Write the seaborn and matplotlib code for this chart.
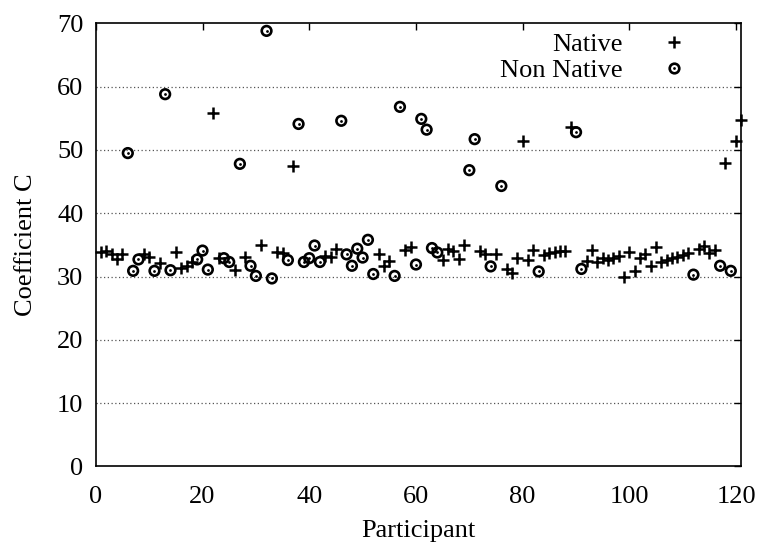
import matplotlib
matplotlib.use("Agg")
import matplotlib.pyplot as plt
from matplotlib.legend_handler import HandlerTuple
import seaborn as sns
import pandas as pd

# Coefficient C per participant, split by speaker group
native_id = [1, 2, 3, 4, 5, 9, 10, 12, 15, 16, 17, 18, 22, 23, 26, 28, 31, 34, 35, 37,
             43, 44, 45, 53, 54, 55, 58, 59, 65, 66, 67, 68, 69, 72, 73, 75, 77, 78, 79, 80,
             81, 82, 84, 85, 86, 87, 88, 89, 92, 93, 94, 95, 96, 97, 98, 99, 100, 101, 102,
             103, 104, 105, 106, 107, 108, 109, 110, 111, 113, 114, 115, 116, 118, 120, 121]
native_c = [33.9, 34.0, 33.5, 32.8, 33.6, 33.5, 33.1, 32.1, 33.9, 31.3, 31.7, 32.3, 55.9, 32.9,
            31.0, 33.1, 35.0, 33.9, 33.7, 47.4, 33.3, 33.1, 34.3, 33.5, 31.7, 32.5, 34.2, 34.7,
            32.6, 34.3, 34.0, 32.8, 35.0, 34.1, 33.5, 33.5, 31.2, 30.5, 33.0, 51.4, 32.6, 34.2,
            33.4, 33.7, 33.8, 34.0, 34.0, 53.6, 32.5, 34.2, 32.3, 32.9, 32.6, 32.9, 33.3, 30.0,
            33.8, 30.8, 32.9, 33.5, 31.6, 34.7, 32.3, 32.6, 32.9, 33.1, 33.4, 33.7, 34.4, 34.9,
            33.7, 34.2, 48.0, 51.4, 54.7]

nonnative_id = [6, 7, 8, 11, 13, 14, 19, 20, 21, 24, 25, 27, 29, 30, 32, 33, 36, 38, 39, 40,
                41, 42, 46, 47, 48, 49, 50, 51, 52, 56, 57, 60, 61, 62, 63, 64, 70, 71, 74, 76,
                83, 90, 91, 112, 117, 119]
nonnative_c = [49.5, 30.9, 32.7, 30.9, 58.8, 31.0, 32.7, 34.1, 31.1, 32.9, 32.3, 47.8, 31.7,
               30.1, 68.8, 29.7, 32.6, 54.1, 32.3, 32.9, 34.9, 32.3, 54.6, 33.5, 31.7, 34.4,
               33.0, 35.8, 30.4, 30.1, 56.8, 31.9, 54.9, 53.2, 34.5, 33.8, 46.8, 51.7, 31.6,
               44.3, 30.8, 52.8, 31.2, 30.3, 31.7, 30.9]

x_ticks = [0, 20, 40, 60, 80, 100, 120]
y_ticks = [0, 10, 20, 30, 40, 50, 60, 70]

native = pd.DataFrame({"Participant": native_id, "C": native_c})
nonnative = pd.DataFrame({"Participant": nonnative_id, "C": nonnative_c})

sns.set_theme(style="white")
plt.rcParams["font.family"] = ["Liberation Serif", "DejaVu Serif"]
plt.rcParams["text.color"] = "black"
plt.rcParams["axes.labelcolor"] = "black"

FS = 19

fig = plt.figure(figsize=(7.59, 5.44), dpi=100)
ax = fig.add_axes([0.1262, 0.1425, 0.8507, 0.8147])

# dotted horizontal grid lines
for yv in y_ticks[1:-1]:
    ax.axhline(yv, color="#555555", lw=0.9, ls=(0, (1, 2)), zorder=0)

sns.scatterplot(data=native, x="Participant", y="C", ax=ax, marker="+", s=66,
                color="black", linewidth=1.8, zorder=3, legend=False, clip_on=False)
sns.scatterplot(data=nonnative, x="Participant", y="C", ax=ax, marker="o", s=48,
                facecolor="none", edgecolor="black", linewidth=1.9, zorder=3, legend=False,
                clip_on=False)
sns.scatterplot(data=nonnative, x="Participant", y="C", ax=ax, marker="o", s=4,
                color="black", linewidth=0, zorder=4, legend=False, clip_on=False)

ax.set_xlim(0, 121)
ax.set_ylim(0, 70)
ax.set_xticks(x_ticks)
ax.set_yticks(y_ticks)
ax.tick_params(axis="both", which="major", direction="in", length=5, width=1.0,
               labelsize=FS, colors="black", top=True, right=True)
ax.tick_params(axis="x", pad=14)
ax.tick_params(axis="y", pad=9)
for sp in ax.spines.values():
    sp.set_color("black")
    sp.set_linewidth(1.2)

ax.set_xlabel("Participant", fontsize=FS, labelpad=9)
ax.set_ylabel("Coefficient C", fontsize=FS, labelpad=14)

h_nat = plt.Line2D([], [], ls="none", marker="+", ms=8.2, mew=1.8, color="black")
h_ring = plt.Line2D([], [], ls="none", marker="o", ms=6.9, mew=1.9, mfc="none", mec="black")
h_dot = plt.Line2D([], [], ls="none", marker="o", ms=2.0, mew=0, color="black")
ax.legend([h_nat, (h_ring, h_dot)], ["Native", "Non Native"],
          handler_map={tuple: HandlerTuple(ndivide=1, pad=0)},
          loc="upper right", bbox_to_anchor=(0.926, 0.979), borderaxespad=0, borderpad=0,
          markerfirst=False, frameon=False, fontsize=FS, handlelength=1.5,
          handletextpad=1.18, labelspacing=0.1)

fig.savefig("out.png", dpi=100)
